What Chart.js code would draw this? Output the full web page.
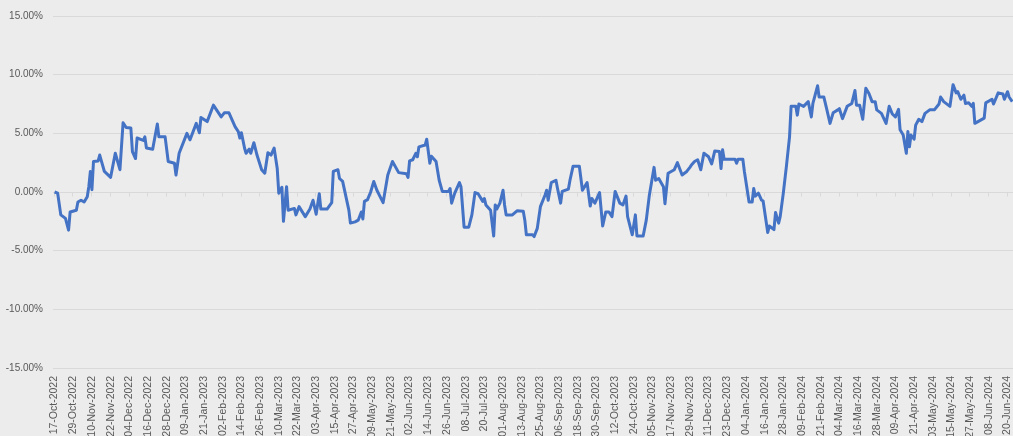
<!DOCTYPE html>
<html>
<head>
<meta charset="utf-8">
<script src="https://cdn.jsdelivr.net/npm/chart.js@4/dist/chart.umd.min.js"></script>
<style>
  html, body { margin: 0; padding: 0; background: #ececec; overflow: hidden; }
  #wrap { width: 1022px; height: 436px; }
</style>
</head>
<body>
<div id="wrap"><canvas id="c" width="1022" height="436"></canvas></div>
<script>
// Tick labels on the date axis (one every 12 days from 17-Oct-2022)
const tickLabels = [
  "17-Oct-2022","29-Oct-2022","10-Nov-2022","22-Nov-2022","04-Dec-2022","16-Dec-2022","28-Dec-2022",
  "09-Jan-2023","21-Jan-2023","02-Feb-2023","14-Feb-2023","26-Feb-2023","10-Mar-2023","22-Mar-2023",
  "03-Apr-2023","15-Apr-2023","27-Apr-2023","09-May-2023","21-May-2023","02-Jun-2023","14-Jun-2023",
  "26-Jun-2023","08-Jul-2023","20-Jul-2023","01-Aug-2023","13-Aug-2023","25-Aug-2023","06-Sep-2023",
  "18-Sep-2023","30-Sep-2023","12-Oct-2023","24-Oct-2023","05-Nov-2023","17-Nov-2023","29-Nov-2023",
  "11-Dec-2023","23-Dec-2023","04-Jan-2024","16-Jan-2024","28-Jan-2024","09-Feb-2024","21-Feb-2024",
  "04-Mar-2024","16-Mar-2024","28-Mar-2024","09-Apr-2024","21-Apr-2024","03-May-2024","15-May-2024",
  "27-May-2024","08-Jun-2024","20-Jun-2024"
];
const tickStepDays = 12;

// Day offsets from 17-Oct-2022 of the points
const dayOffsets = [
  0,2,4,7,9,10,14,15,17,19,21,22,23,24,25,28,29,32,36,39,42,44,46,49,50,52,53,57,58,59,
  63,66,67,71,73,77,78,80,85,87,91,93,94,98,102,107,109,112,116,118,119,120,122,123,125,126,128,130,133,135,
  137,139,141,143,144,146,147,149,150,154,155,157,161,164,166,168,170,171,175,178,179,182,183,185,189,190,193,195,197,198,
  199,201,203,205,207,211,214,217,221,226,227,228,230,232,233,234,238,239,241,242,245,247,249,253,254,255,257,260,261,263,
  266,268,270,272,275,276,277,280,282,283,284,286,288,289,290,294,297,301,302,303,307,308,310,312,315,316,317,319,322,323,
  325,326,330,331,333,337,339,342,344,345,347,350,352,354,356,358,360,363,365,367,368,371,373,374,378,380,382,385,386,388,
  391,392,394,396,398,400,403,406,408,409,411,413,415,417,420,422,424,427,428,429,430,437,438,439,442,443,446,448,449,450,
  452,454,455,458,459,462,463,465,466,468,470,472,473,476,477,478,481,484,486,487,490,491,494,496,498,500,503,504,506,509,
  512,514,515,517,519,521,523,525,527,528,531,534,536,538,540,542,543,545,547,548,549,550,552,553,555,557,559,562,565,568,
  569,571,575,577,579,580,582,584,585,587,589,590,591,593,597,598,602,603,606,609,610,612,613,615
];

// Cumulative return (%) at those days
const returnPct = [
  0.0,-0.1,-1.95,-2.25,-3.25,-1.7,-1.55,-0.85,-0.7,-0.85,-0.4,0.45,1.75,0.2,2.6,2.65,3.15,1.75,1.25,3.3,1.9,5.9,5.5,5.45,3.45,2.85,4.6,4.4,4.7,3.75,
  3.65,5.8,4.7,4.7,2.6,2.45,1.45,3.3,5.0,4.45,5.85,5.05,6.35,6.0,7.4,6.4,6.75,6.75,5.55,5.15,4.6,5.05,3.75,3.3,3.65,3.3,4.2,3.15,1.9,1.6,
  3.35,3.15,3.75,2.0,-0.1,0.4,-2.5,0.45,-1.55,-1.4,-1.95,-1.25,-2.1,-1.45,-0.7,-1.9,-0.15,-1.45,-1.45,-0.9,1.75,1.9,1.15,0.9,-1.55,-2.65,-2.55,-2.4,-1.7,-2.3,
  -0.8,-0.65,0.0,0.9,0.15,-0.9,1.45,2.6,1.65,1.55,1.25,2.65,2.75,3.3,3.0,3.85,4.0,4.5,2.45,3.05,2.6,1.0,0.05,0.05,0.3,-0.95,-0.1,0.8,0.45,-3.0,
  -3.0,-1.95,-0.05,-0.15,-0.8,-0.55,-1.1,-1.55,-3.75,-1.1,-1.45,-0.95,0.15,-1.1,-1.95,-1.95,-1.6,-1.65,-2.4,-3.65,-3.65,-3.8,-3.1,-1.25,-0.25,0.15,-0.7,0.8,1.0,0.3,
  -0.95,0.05,0.25,1.0,2.2,2.2,0.15,0.8,-1.2,-0.55,-0.95,-0.05,-2.9,-1.7,-1.7,-2.1,0.05,-0.95,-1.1,-0.35,-2.1,-3.65,-1.95,-3.75,-3.75,-2.4,-0.25,2.1,1.0,1.15,
  0.45,-1.0,1.6,1.75,1.9,2.5,1.45,1.75,2.1,2.3,2.6,2.75,1.9,3.3,3.0,2.4,3.5,3.45,2.0,3.6,2.8,2.8,2.45,2.8,2.8,1.75,-0.85,-0.85,0.3,-0.35,
  -0.1,-0.7,-0.75,-3.45,-2.9,-3.2,-1.75,-2.65,-2.1,-0.1,2.2,4.7,7.3,7.3,6.55,7.5,7.3,7.7,6.4,7.55,9.05,8.1,8.1,7.0,5.85,6.75,7.0,7.1,6.25,7.3,
  7.55,8.65,7.4,7.4,6.2,8.85,8.4,7.7,7.7,7.0,6.7,5.85,7.3,6.65,6.4,7.05,5.3,4.85,3.3,5.15,3.85,4.85,4.5,5.7,6.2,6.0,6.7,7.0,7.0,7.5,
  8.1,7.7,7.3,9.15,8.45,8.55,7.9,8.25,7.55,7.6,7.3,7.55,5.85,6.0,6.3,7.6,7.9,7.5,8.45,8.35,7.9,8.55,8.1,7.7
];

const yTicks = [-15, -10, -5, 0, 5, 10, 15];

const points = dayOffsets.map((d, i) => ({ x: d, y: returnPct[i] }));
const textColor = '#595959';
const gridColor = '#d9d9d9';

// Small category tick marks hanging below the 0% line (axis crosses at zero)
const zeroAxisTicks = {
  id: 'zeroAxisTicks',
  beforeDatasetsDraw(chart) {
    const { ctx, scales: { x, y } } = chart;
    const y0 = Math.round(y.getPixelForValue(0)) + 0.5;
    ctx.save();
    ctx.strokeStyle = gridColor;
    ctx.lineWidth = 1;
    ctx.beginPath();
    tickLabels.forEach((_, i) => {
      const px = Math.round(x.getPixelForValue(i * tickStepDays - 0.5)) + 0.5;
      ctx.moveTo(px, y0);
      ctx.lineTo(px, y0 + 4);
    });
    ctx.stroke();
    ctx.restore();
  }
};

new Chart(document.getElementById('c'), {
  type: 'line',
  data: {
    datasets: [{
      data: points,
      borderColor: '#4472C4',
      borderWidth: 3,
      pointRadius: 0,
      tension: 0,
      borderJoinStyle: 'round',
      fill: false
    }]
  },
  plugins: [zeroAxisTicks],
  options: {
    responsive: false,
    animation: false,
    devicePixelRatio: 1,
    layout: { padding: { top: 16, right: 2, left: 0, bottom: 0 } },
    plugins: { legend: { display: false }, tooltip: { enabled: false } },
    scales: {
      x: {
        type: 'linear',
        min: -1,
        max: 620,
        grid: { display: false },
        border: { display: false },
        afterBuildTicks: (axis) => {
          axis.ticks = tickLabels.map((_, i) => ({ value: i * tickStepDays }));
        },
        afterFit: (axis) => { axis.height = 68; },
        ticks: {
          autoSkip: false,
          minRotation: 90,
          maxRotation: 90,
          padding: 0,
          color: textColor,
          font: { family: 'Liberation Sans', size: 10.5 },
          callback: (v) => {
            const i = Math.round(v / tickStepDays);
            return tickLabels[i] !== undefined ? tickLabels[i] : '';
          }
        }
      },
      y: {
        min: yTicks[0],
        max: yTicks[yTicks.length - 1],
        afterBuildTicks: (axis) => { axis.ticks = yTicks.map(v => ({ value: v })); },
        afterFit: (axis) => { axis.width = 53; },
        grid: { color: gridColor, lineWidth: 1, drawTicks: false },
        border: { display: false },
        ticks: {
          padding: 10,
          color: textColor,
          font: { family: 'Liberation Sans', size: 10 },
          callback: (v) => v.toFixed(2) + '%'
        }
      }
    }
  }
});
</script>
</body>
</html>
